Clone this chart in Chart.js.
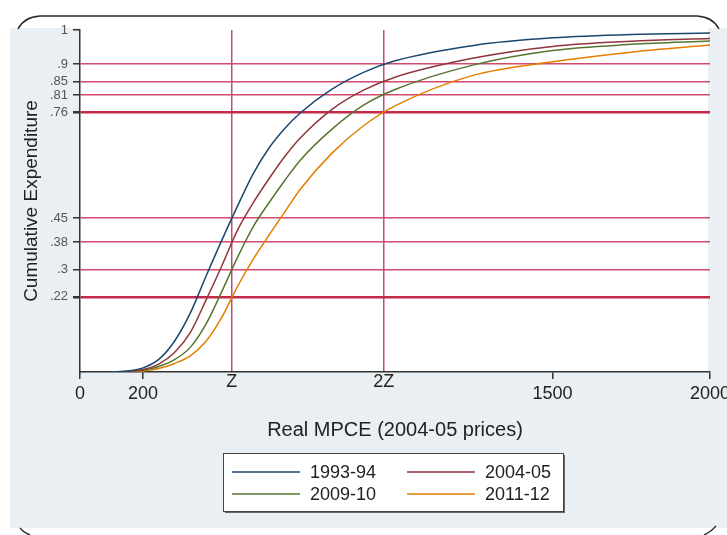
<!DOCTYPE html>
<html>
<head>
<meta charset="utf-8">
<script src="https://cdn.jsdelivr.net/npm/chart.js@4.4.1/dist/chart.umd.min.js"></script>
<style>
  html, body { margin: 0; padding: 0; background: #ffffff; }
  #wrap { width: 727px; height: 535px; }
</style>
</head>
<body>
<div id="wrap"><canvas id="cdfChart" width="727" height="535"></canvas></div>
<script>
const mpce = [100, 150, 200, 250, 300, 350, 400, 450, 500, 550, 600, 650, 700, 800, 900, 1000, 1250, 1500, 1750, 2000];
const share9394 = [0, 0.003, 0.012, 0.037, 0.09, 0.172, 0.28, 0.385, 0.485, 0.58, 0.655, 0.712, 0.758, 0.827, 0.876, 0.91, 0.955, 0.977, 0.987, 0.991];
const share0405 = [0, 0.002, 0.007, 0.023, 0.057, 0.115, 0.21, 0.31, 0.415, 0.495, 0.565, 0.63, 0.685, 0.768, 0.824, 0.862, 0.918, 0.952, 0.967, 0.975];
const share0910 = [0, 0.001, 0.005, 0.016, 0.036, 0.072, 0.14, 0.235, 0.335, 0.425, 0.495, 0.56, 0.62, 0.71, 0.78, 0.826, 0.898, 0.94, 0.958, 0.968];
const share1112 = [0, 0, 0.003, 0.01, 0.025, 0.047, 0.09, 0.16, 0.25, 0.33, 0.4, 0.468, 0.535, 0.64, 0.72, 0.778, 0.868, 0.907, 0.935, 0.956];

const seriesNames = ["1993-94", "2004-05", "2009-10", "2011-12"];
const seriesColors = ["#1a476f", "#90353b", "#55752f", "#e37e00"];

const xTickValues = [0, 200, 1500, 2000];
const zValues = [482, 964];
const zLabels = ["Z", "2Z"];
const yTickValues = [0.22, 0.3, 0.38, 0.45, 0.76, 0.81, 0.85, 0.9, 1];
const thickLines = [0.22, 0.76];

function makeSeries(values) {
  return mpce.map(function (x, i) {
    return { x: x, y: values[i] };
  });
}

const frameBackground = {
  id: "frameBackground",
  beforeDraw: function (chart) {
    const ctx = chart.ctx;
    const area = chart.chartArea;
    ctx.save();
    ctx.fillStyle = "#ffffff";
    ctx.fillRect(0, 0, chart.width, chart.height);
    ctx.fillStyle = "#e9eff2";
    ctx.fillRect(10, 28, chart.width - 10, 500);
    ctx.fillStyle = "#ffffff";
    ctx.fillRect(area.left, 28, area.right - area.left - 2, area.bottom - 28);

    // rounded frame, only the top edge and the corners show
    ctx.strokeStyle = "#2a2a2a";
    ctx.lineWidth = 1.4;
    ctx.beginPath();
    ctx.moveTo(18, 29);
    ctx.quadraticCurveTo(24, 17, 40, 16);
    ctx.lineTo(697, 16);
    ctx.quadraticCurveTo(713, 17, 719, 29);
    ctx.stroke();
    ctx.beginPath();
    ctx.moveTo(20, 528);
    ctx.quadraticCurveTo(24, 533, 30, 535);
    ctx.stroke();
    ctx.beginPath();
    ctx.moveTo(704, 535);
    ctx.quadraticCurveTo(711, 532, 716, 526);
    ctx.stroke();
    ctx.restore();
  },
};

const boxLegend = {
  id: "boxLegend",
  afterDraw: function (chart) {
    const ctx = chart.ctx;
    const left = 223, top = 453, width = 340, height = 58;
    ctx.save();
    ctx.fillStyle = "#666666";
    ctx.fillRect(left + 2, top + 2, width, height);
    ctx.fillStyle = "#ffffff";
    ctx.fillRect(left, top, width, height);
    ctx.strokeStyle = "#444444";
    ctx.lineWidth = 1;
    ctx.strokeRect(left + 0.5, top + 0.5, width, height);

    ctx.font = "18px 'Liberation Sans', Arial, sans-serif";
    ctx.textBaseline = "middle";
    ctx.fillStyle = "#222222";
    chart.data.datasets.forEach(function (ds, i) {
      const col = i % 2;
      const row = Math.floor(i / 2);
      const lineX = col === 0 ? 232 : 407;
      const y = row === 0 ? 472 : 494;
      ctx.strokeStyle = ds.borderColor;
      ctx.lineWidth = 1.5;
      ctx.beginPath();
      ctx.moveTo(lineX, y);
      ctx.lineTo(lineX + 68, y);
      ctx.stroke();
      ctx.fillText(ds.label, lineX + 78, y + 1);
    });
    ctx.restore();
  },
};

document.addEventListener("DOMContentLoaded", function () {
  const ctx = document.getElementById("cdfChart").getContext("2d");
  const allShares = [share9394, share0405, share0910, share1112];

  const datasets = allShares.map(function (values, i) {
    return {
      label: seriesNames[i],
      data: makeSeries(values),
      borderColor: seriesColors[i],
      borderWidth: 1.5,
      pointRadius: 0,
      fill: false,
      cubicInterpolationMode: "monotone",
    };
  });

  new Chart(ctx, {
    type: "line",
    data: { datasets: datasets },
    options: {
      responsive: false,
      animation: false,
      layout: { padding: { top: 30, left: 0, right: 17, bottom: 93 } },
      plugins: {
        legend: { display: false },
        tooltip: { enabled: false },
      },
      scales: {
        x: {
          type: "linear",
          min: 0,
          max: 2000,
          afterBuildTicks: function (scale) {
            const values = xTickValues.concat(zValues).sort(function (a, b) { return a - b; });
            scale.ticks = values.map(function (v) { return { value: v }; });
          },
          afterFit: function (scale) {
            scale.height = 70;
            scale.paddingRight = 0;
          },
          border: { display: true, color: "#333333", width: 1.5 },
          grid: {
            drawOnChartArea: true,
            tickLength: 7,
            lineWidth: 1.5,
            color: function (c) {
              return zValues.indexOf(c.tick && c.tick.value) >= 0 ? "#c4487a" : "rgba(0,0,0,0)";
            },
            tickColor: function (c) {
              return zValues.indexOf(c.tick && c.tick.value) >= 0 ? "rgba(0,0,0,0)" : "#333333";
            },
          },
          ticks: {
            autoSkip: false,
            maxRotation: 0,
            padding: -3,
            color: "#222222",
            font: { family: "'Liberation Sans', Arial, sans-serif", size: 18, lineHeight: "12px" },
            callback: function (value) {
              const z = zValues.indexOf(value);
              if (z >= 0) return zLabels[z];
              return ["", String(value)];
            },
          },
          title: {
            display: true,
            text: "Real MPCE (2004-05 prices)",
            color: "#222222",
            padding: { top: 0, bottom: 0 },
            font: { family: "'Liberation Sans', Arial, sans-serif", size: 20, lineHeight: 1.2 },
          },
        },
        y: {
          type: "linear",
          min: 0,
          max: 1,
          afterBuildTicks: function (scale) {
            scale.ticks = yTickValues.map(function (v) { return { value: v }; });
          },
          afterFit: function (scale) {
            scale.width = 80;
          },
          border: { display: true, color: "#333333", width: 1.5 },
          grid: {
            tickLength: 7,
            lineWidth: function (c) {
              return thickLines.indexOf(c.tick && c.tick.value) >= 0 ? 2.5 : 1.5;
            },
            color: function (c) {
              const v = c.tick && c.tick.value;
              if (v === 1) return "rgba(0,0,0,0)";
              return thickLines.indexOf(v) >= 0 ? "#c42a4a" : "#d24a6c";
            },
            tickColor: "#333333",
          },
          ticks: {
            autoSkip: false,
            padding: 5,
            color: "#555555",
            font: { family: "'Liberation Sans', Arial, sans-serif", size: 13 },
            callback: function (value) {
              return value === 1 ? "1" : String(value).replace("0.", ".");
            },
          },
          title: {
            display: true,
            text: "Cumulative Expenditure",
            color: "#222222",
            padding: { top: 20, bottom: 0 },
            font: { family: "'Liberation Sans', Arial, sans-serif", size: 19, lineHeight: 1.2 },
          },
        },
      },
    },
    plugins: [frameBackground, boxLegend],
  });
});
</script>
</body>
</html>
